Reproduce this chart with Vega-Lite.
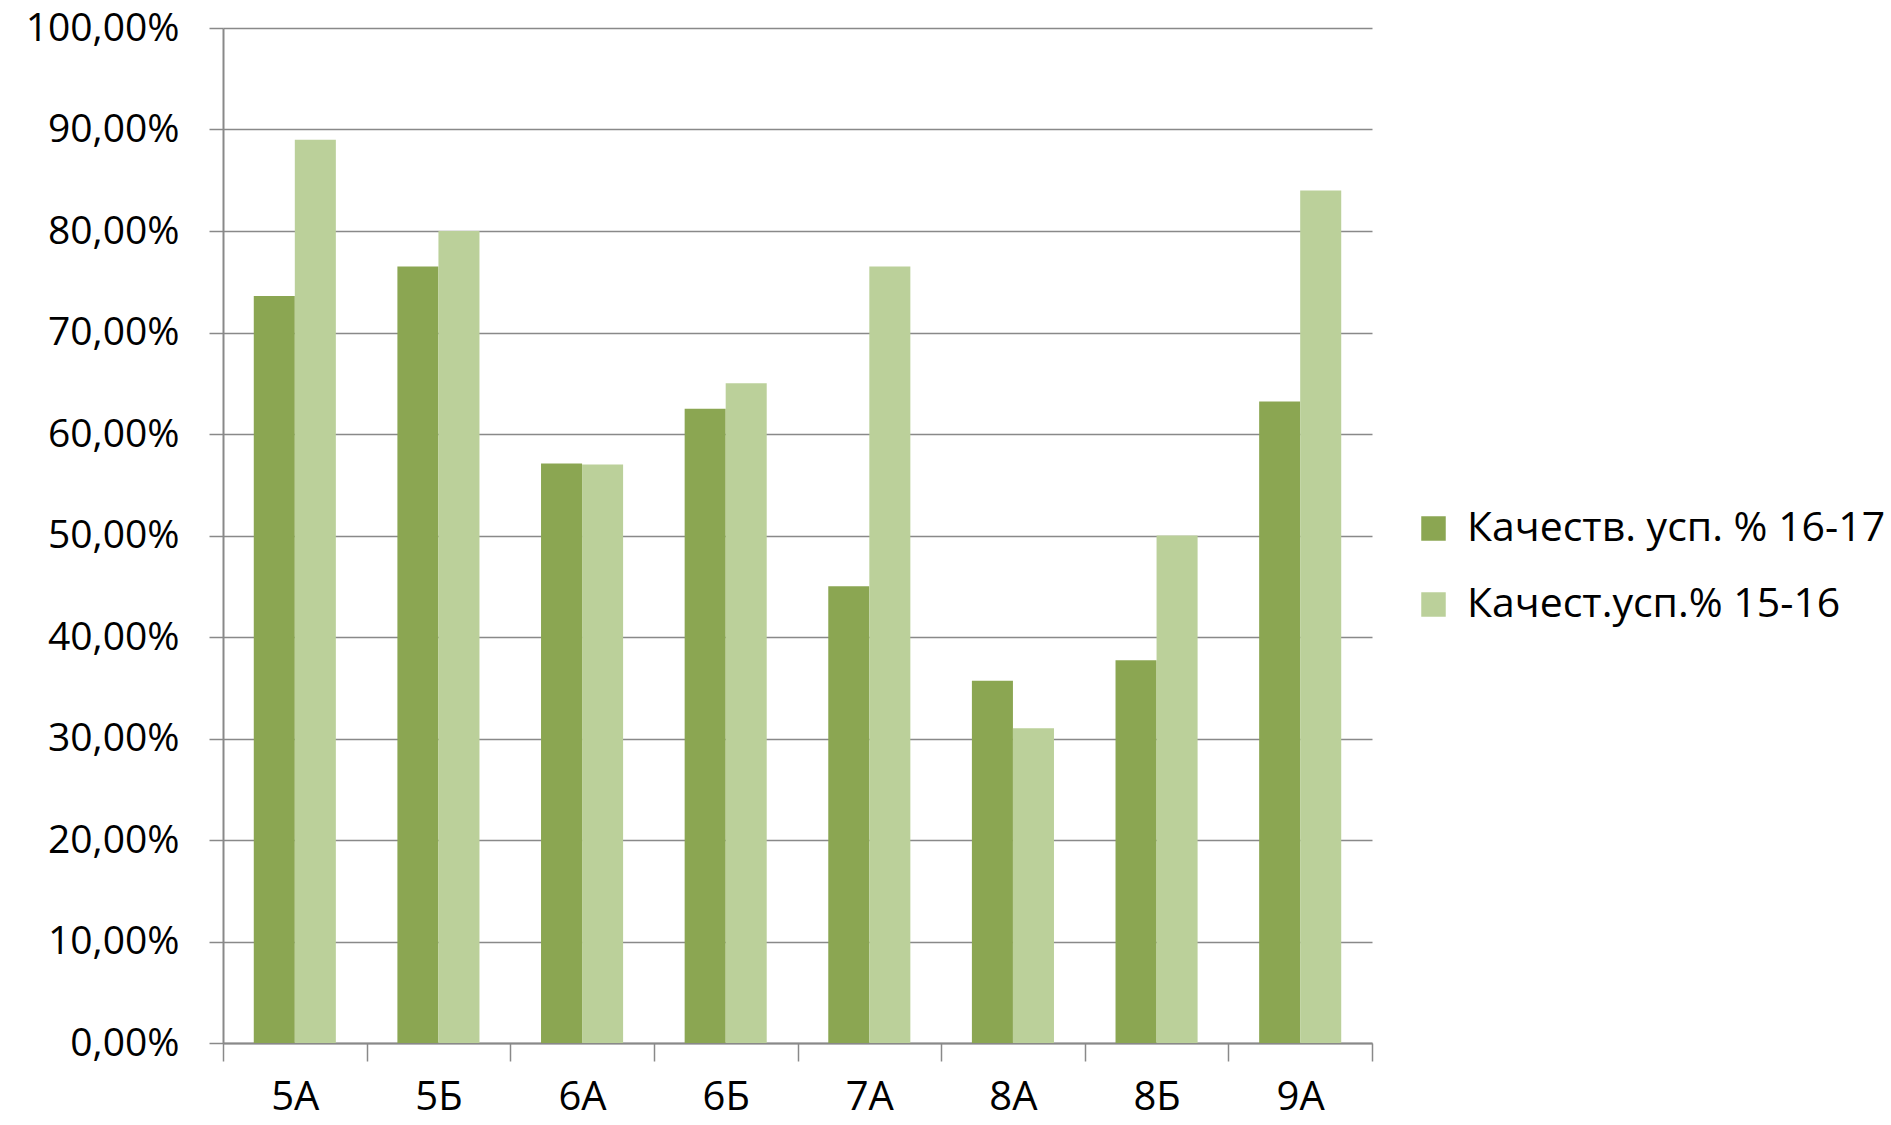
{
  "$schema": "https://vega.github.io/schema/vega-lite/v6.json",
  "width": 1149,
  "height": 1015,
  "autosize": {"type": "none"},
  "padding": {"left": 223, "top": 28, "right": 519, "bottom": 82},
  "background": "white",
  "data": {
    "values": [
      {"class": "5А", "series": "Качеств. усп. % 16-17", "value": 0.736},
      {"class": "5А", "series": "Качест.усп.% 15-16", "value": 0.89},
      {"class": "5Б", "series": "Качеств. усп. % 16-17", "value": 0.765},
      {"class": "5Б", "series": "Качест.усп.% 15-16", "value": 0.80},
      {"class": "6А", "series": "Качеств. усп. % 16-17", "value": 0.571},
      {"class": "6А", "series": "Качест.усп.% 15-16", "value": 0.57},
      {"class": "6Б", "series": "Качеств. усп. % 16-17", "value": 0.625},
      {"class": "6Б", "series": "Качест.усп.% 15-16", "value": 0.65},
      {"class": "7А", "series": "Качеств. усп. % 16-17", "value": 0.45},
      {"class": "7А", "series": "Качест.усп.% 15-16", "value": 0.765},
      {"class": "8А", "series": "Качеств. усп. % 16-17", "value": 0.357},
      {"class": "8А", "series": "Качест.усп.% 15-16", "value": 0.31},
      {"class": "8Б", "series": "Качеств. усп. % 16-17", "value": 0.377},
      {"class": "8Б", "series": "Качест.усп.% 15-16", "value": 0.50},
      {"class": "9А", "series": "Качеств. усп. % 16-17", "value": 0.632},
      {"class": "9А", "series": "Качест.усп.% 15-16", "value": 0.84}
    ]
  },
  "mark": {"type": "bar"},
  "encoding": {
    "x": {
      "field": "class",
      "type": "nominal",
      "sort": null,
      "title": null,
      "scale": {"paddingInner": 0, "paddingOuter": 0},
      "axis": {
        "labelAngle": 0,
        "labelFont": "Open Sans",
        "labelFontSize": 40,
        "labelColor": "#000000",
        "labelPadding": 16,
        "tickBand": "extent",
        "tickSize": 18,
        "tickColor": "#898989",
        "tickWidth": 1.5,
        "domainColor": "#898989",
        "domainWidth": 2,
        "grid": false
      }
    },
    "xOffset": {
      "field": "series",
      "type": "nominal",
      "sort": ["Качеств. усп. % 16-17", "Качест.усп.% 15-16"],
      "scale": {"paddingInner": 0, "paddingOuter": 0.75}
    },
    "y": {
      "field": "value",
      "type": "quantitative",
      "title": null,
      "scale": {"domain": [0, 1], "nice": false},
      "axis": {
        "values": [0, 0.1, 0.2, 0.3, 0.4, 0.5, 0.6, 0.7, 0.8, 0.9, 1],
        "labelExpr": "replace(format(datum.value, '.2%'), '.', ',')",
        "labelFont": "Open Sans",
        "labelFontSize": 39,
        "labelColor": "#000000",
        "labelPadding": 30,
        "tickSize": 14,
        "tickColor": "#898989",
        "tickWidth": 1.5,
        "domainColor": "#898989",
        "domainWidth": 2,
        "grid": true,
        "gridColor": "#898989",
        "gridWidth": 1.5
      }
    },
    "color": {
      "field": "series",
      "type": "nominal",
      "sort": ["Качеств. усп. % 16-17", "Качест.усп.% 15-16"],
      "scale": {
        "domain": ["Качеств. усп. % 16-17", "Качест.усп.% 15-16"],
        "range": ["#8BA652", "#BBD09A"]
      },
      "legend": {
        "title": null,
        "orient": "none",
        "legendX": 1190,
        "legendY": 480,
        "symbolType": "square",
        "symbolSize": 600,
        "symbolStrokeWidth": 0,
        "labelFont": "Open Sans",
        "labelFontSize": 41,
        "labelColor": "#000000",
        "labelOffset": 13,
        "rowPadding": 34,
        "labelLimit": 600
      }
    }
  },
  "config": {
    "view": {"stroke": null}
  }
}
